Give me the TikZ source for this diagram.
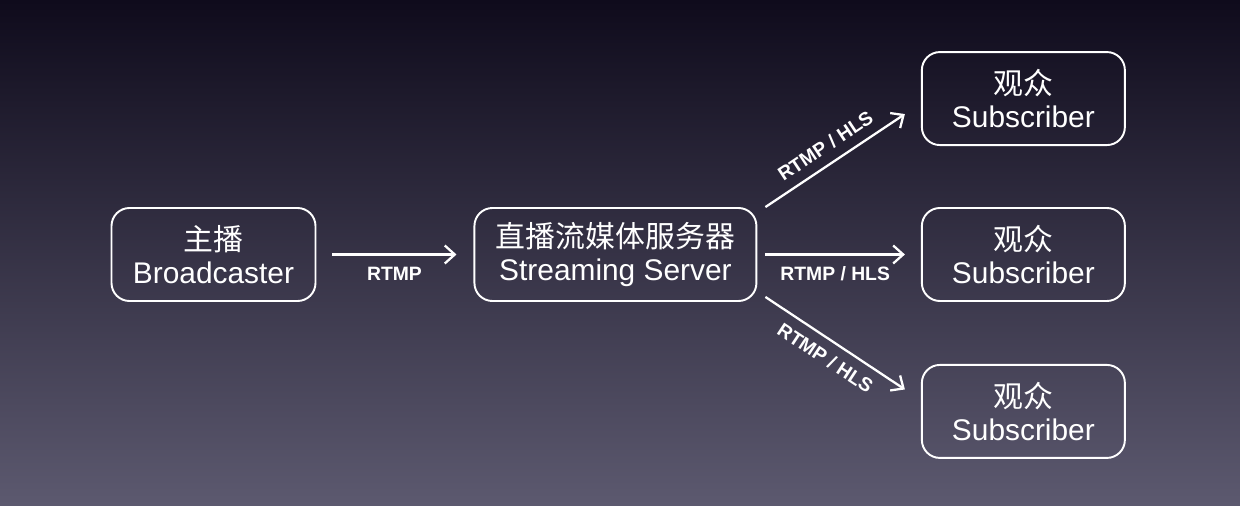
\documentclass[tikz,border=0pt]{standalone}
\usepackage{fontspec}
\setmainfont{Liberation Sans}
\newfontfamily\cjk{Noto Sans CJK SC}
\usetikzlibrary{arrows.meta,positioning}
\definecolor{bgtop}{HTML}{0F0B1C}
\definecolor{bgmid}{HTML}{2B283F}
\definecolor{bgbot}{HTML}{5C596F}

\begin{document}
\begin{tikzpicture}[auto, >={Straight Barb[length=2mm,width=3.6mm]},
  box/.style={draw=white, line width=1.1pt, rounded corners=3.6mm, text=white,
    align=center, minimum height=1.86cm, font=\fontsize{17}{19}\selectfont},
  sub/.style={box, minimum width=4.06cm},
  flow/.style={->, draw=white, line width=1.3pt},
  proto/.style={text=white, font=\fontsize{11}{13}\selectfont\bfseries}]
  \useasboundingbox (0,0) rectangle (24.8,10.1);
  \shade[top color=bgtop, middle color=bgmid, bottom color=bgbot] (0,0) rectangle (24.8,10.1);
  \node[box, minimum width=4.08cm] (bc) at (4.27,5.01) {{\cjk 主播}\\Broadcaster};
  \node[box, minimum width=5.64cm, right=3.14cm of bc] (srv) {{\cjk 直播流媒体服务器}\\Streaming Server};
  \node[sub, right=3.27cm of srv] (subB) {{\cjk 观众}\\Subscriber};
  \node[sub, above=1.22cm of subB] (subA) {{\cjk 观众}\\Subscriber};
  \node[sub, below=1.24cm of subB] (subC) {{\cjk 观众}\\Subscriber};
  \draw[flow] ([xshift=0.32cm]bc.east) -- node[proto, below=3pt] {RTMP} ([xshift=-0.34cm]srv.west);
  \draw[flow] ([xshift=0.16cm]srv.east) -- node[proto, below=3pt] {RTMP / HLS} ([xshift=-0.32cm]subB.west);
  \draw[flow] ([xshift=0.16cm]srv.north east) -- node[proto, sloped, above=2pt] {RTMP / HLS} ([xshift=-0.32cm,yshift=-0.31cm]subA.west);
  \draw[flow] ([xshift=0.16cm,yshift=0.1cm]srv.south east) -- node[proto, sloped, below=2pt] {RTMP / HLS} ([xshift=-0.32cm,yshift=0.44cm]subC.west);
\end{tikzpicture}
\end{document}
